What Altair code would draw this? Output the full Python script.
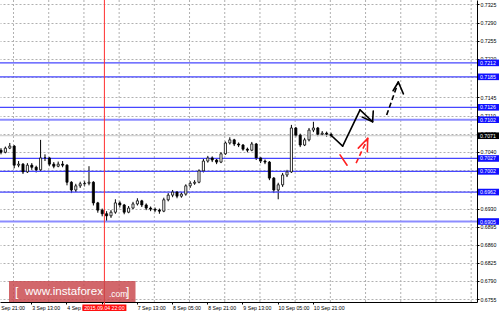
import altair as alt
import pandas as pd

first_open = 0.7043
bar_close = [
    0.7039, 0.7047, 0.7051, 0.7014, 0.7016, 0.7001, 0.7014, 0.7010, 0.7005, 0.7028,
    0.7028, 0.7016, 0.7012, 0.7016, 0.7014, 0.6981, 0.6966, 0.6974, 0.6978, 0.6979,
    0.6981, 0.6941, 0.6927, 0.6920, 0.6916, 0.6923, 0.6941, 0.6937, 0.6923, 0.6931,
    0.6939, 0.6945, 0.6937, 0.6931, 0.6929, 0.6927, 0.6925, 0.6947, 0.6956, 0.6962,
    0.6954, 0.6958, 0.6974, 0.6979, 0.6981, 0.7003, 0.7022, 0.7028, 0.7024, 0.7020,
    0.7036, 0.7057, 0.7063, 0.7055, 0.7053, 0.7045, 0.7043, 0.7055, 0.7028, 0.7022,
    0.7020, 0.6989, 0.6966, 0.6976, 0.6995, 0.7001, 0.7086, 0.7072, 0.7053, 0.7063,
    0.7082, 0.7086, 0.7074, 0.7076, 0.7074, 0.7071,
]
bar_high = [
    0.7047, 0.7050, 0.7057, 0.7053, 0.7022, 0.7018, 0.7018, 0.7018, 0.7013, 0.7063,
    0.7035, 0.7030, 0.7020, 0.7021, 0.7022, 0.7016, 0.6983, 0.6978, 0.6982, 0.6984,
    0.7012, 0.6983, 0.6943, 0.6930, 0.6925, 0.6927, 0.6948, 0.6945, 0.6939, 0.6935,
    0.6943, 0.6950, 0.6947, 0.6940, 0.6934, 0.6932, 0.6930, 0.6951, 0.6960, 0.6966,
    0.6964, 0.6962, 0.6977, 0.6983, 0.6985, 0.7006, 0.7026, 0.7032, 0.7031, 0.7027,
    0.7039, 0.7060, 0.7068, 0.7065, 0.7058, 0.7055, 0.7048, 0.7059, 0.7057, 0.7030,
    0.7025, 0.7022, 0.6991, 0.6980, 0.6999, 0.7005, 0.7092, 0.7088, 0.7075, 0.7067,
    0.7086, 0.7098, 0.7088, 0.7080, 0.7079, 0.7077,
]
bar_low = [
    0.7035, 0.7037, 0.7045, 0.7008, 0.7010, 0.6997, 0.6999, 0.7005, 0.7000, 0.7003,
    0.7022, 0.7012, 0.7008, 0.7010, 0.7010, 0.6975, 0.6960, 0.6962, 0.6970, 0.6973,
    0.6975, 0.6936, 0.6922, 0.6915, 0.6904, 0.6912, 0.6920, 0.6932, 0.6919, 0.6921,
    0.6929, 0.6936, 0.6933, 0.6927, 0.6925, 0.6923, 0.6920, 0.6923, 0.6944, 0.6952,
    0.6950, 0.6951, 0.6955, 0.6970, 0.6976, 0.6979, 0.7000, 0.7019, 0.7020, 0.7016,
    0.7018, 0.7034, 0.7054, 0.7051, 0.7049, 0.7042, 0.7039, 0.7041, 0.7024, 0.7018,
    0.7016, 0.6985, 0.6960, 0.6948, 0.6972, 0.6991, 0.6999, 0.7068, 0.7049, 0.7051,
    0.7060, 0.7078, 0.7070, 0.7071, 0.7069, 0.7068,
]

time_labels = ["2 Sep 21:00", "3 Sep 13:00", "4 Sep 05:00", "7 Sep 13:00", "8 Sep 05:00",
               "8 Sep 21:00", "9 Sep 13:00", "10 Sep 05:00", "10 Sep 21:00"]
time_label_hours = [-2.3, 13.7, 29.7, 61.7, 77.7, 93.7, 109.7, 125.7, 141.7]
time_tick_hours = [13.7, 29.7, 45.7, 61.7, 77.7, 93.7, 109.7, 125.7, 141.7]
grid_hours = [5.7, 21.7, 37.7, 53.7, 69.7, 85.7, 101.7, 117.7, 133.7, 149.7,
              165.7, 181.7, 197.7, 213.7]

price_ticks = [0.6755, 0.6790, 0.6825, 0.6860, 0.6895, 0.6930, 0.6965, 0.7005,
               0.7040, 0.7075, 0.7110, 0.7145, 0.7185, 0.7220, 0.7255, 0.7290, 0.7325]

level_prices = [0.7212, 0.7185, 0.7126, 0.7102, 0.7027, 0.7002, 0.6962, 0.6905]
level_labels = ["0.7212", "0.7185", "0.7126", "0.7102", "0.7027", "0.7002", "0.6962", "0.6905"]
level_strong = [False, False, False, True, False, False, False, True]

current_price = 0.7071
current_label = "0.7071"

marker_hour = 47.0
marker_label = "2015.09.04 22:00"

# forecast arrows: (hour1, price1, hour2, price2)
black_solid = [
    (150.0, 0.7072, 155.3, 0.7051),
    (155.3, 0.7051, 163.2, 0.7121),
    (163.2, 0.7121, 168.9, 0.7098),
    (164.2, 0.7107, 168.9, 0.7098),
    (169.2, 0.7119, 168.9, 0.7098),
    (178.2, 0.7158, 180.6, 0.7175),
    (182.9, 0.7152, 180.6, 0.7175),
]
black_dashed = [
    (175.3, 0.7111, 180.6, 0.7175),
]
red_solid = [
    (154.1, 0.7034, 157.3, 0.7014),
    (162.4, 0.7047, 166.7, 0.7066),
    (166.5, 0.7040, 166.7, 0.7066),
]
red_dashed = [
    (161.4, 0.7018, 166.7, 0.7066),
]

# ---------------- scales / axes ----------------
X_DOMAIN = [-0.45, 216.35]
Y_DOMAIN = [0.67492, 0.73337]
PW, PH = 477, 302
FONT = "Liberation Sans"
GRID = "#b0b0b0"


def xs():
    return alt.Scale(domain=X_DOMAIN, nice=False, zero=False)


def ys():
    return alt.Scale(domain=Y_DOMAIN, nice=False, zero=False)


def x_axis():
    return alt.Axis(orient="bottom", values=time_tick_hours, labels=False, grid=False,
                    ticks=True, tickSize=2, tickColor="#000000", domainColor="#000000",
                    domainWidth=1, title=None)


def y_axis():
    return alt.Axis(orient="right", values=price_ticks, format=".4f", labelFont=FONT,
                    labelFontSize=5.2, labelColor="#000000", labelPadding=1,
                    labelOverlap=False, labelFlush=False, tickSize=2, tickColor="#000000",
                    domainColor="#000000", domainWidth=1, grid=True, gridDash=[2, 2],
                    gridColor=GRID, gridWidth=1, title=None)


def X(field):
    return alt.X(field, scale=xs(), axis=x_axis(), title=None)


def Y(field):
    return alt.Y(field, scale=ys(), axis=y_axis(), title=None)


# ---------------- tables ----------------
opens = [first_open] + bar_close[:-1]
candles = pd.DataFrame({
    "hour": [2 * i for i in range(len(bar_close))],
    "open": opens, "close": bar_close, "high": bar_high, "low": bar_low,
})
candles["up"] = candles["close"] >= candles["open"]
candles["xa"] = candles["hour"] - 0.48
candles["xb"] = candles["hour"] + 0.48
candles["fill"] = ["#ffffff" if u else "#000000" for u in candles["up"]]

levels = pd.DataFrame({
    "price": level_prices, "label": level_labels,
    "color": ["#8c8cff" if s else "#4646ff" for s in level_strong],
    "w": [2.0 if s else 1.2 for s in level_strong],
})


def seg_df(rows, color):
    return pd.DataFrame([{"h1": a, "p1": b, "h2": c, "p2": d, "color": color} for a, b, c, d in rows])


arrows_solid = pd.concat([seg_df(black_solid, "#000000"), seg_df(red_solid, "#ff2020")])
arrows_dashed = pd.concat([seg_df(black_dashed, "#000000"), seg_df(red_dashed, "#ff2020")])

# ---------------- layers ----------------
wicks = alt.Chart(candles).mark_rule(color="#000000", strokeWidth=1).encode(
    x=X("hour:Q"), y=Y("low:Q"), y2="high:Q",
)

bodies = alt.Chart(candles).mark_rect(stroke="#000000", strokeWidth=0.8).encode(
    x=X("xa:Q"), x2="xb:Q", y=Y("open:Q"), y2="close:Q",
    fill=alt.Fill("fill:N", scale=None),
)

vgrid = alt.Chart(pd.DataFrame({"hour": grid_hours})).mark_rule(
    color=GRID, strokeDash=[2, 2], strokeWidth=1
).encode(
    x=X("hour:Q"), y=alt.value(0), y2=alt.value(PH),
)

level_rules = alt.Chart(levels).mark_rule().encode(
    y=Y("price:Q"), x=alt.value(0), x2=alt.value(PW),
    color=alt.Color("color:N", scale=None),
    strokeWidth=alt.StrokeWidth("w:Q", scale=None),
)

bid_rule = alt.Chart(pd.DataFrame({"price": [current_price]})).mark_rule(
    color="#c8c8c8", strokeWidth=1
).encode(
    y=Y("price:Q"), x=alt.value(0), x2=alt.value(PW),
)

marker_rule = alt.Chart(pd.DataFrame({"hour": [marker_hour]})).mark_rule(
    color="#ff3030", strokeWidth=1
).encode(
    x=X("hour:Q"), y=alt.value(0), y2=alt.value(305),
)

arr_solid = alt.Chart(arrows_solid).mark_rule(strokeWidth=1.6, strokeCap="round").encode(
    x=X("h1:Q"), x2="h2:Q", y=Y("p1:Q"), y2="p2:Q",
    color=alt.Color("color:N", scale=None),
)
arr_dashed = alt.Chart(arrows_dashed).mark_rule(strokeWidth=1.6, strokeDash=[5, 3]).encode(
    x=X("h1:Q"), x2="h2:Q", y=Y("p1:Q"), y2="p2:Q",
    color=alt.Color("color:N", scale=None),
)

# logo
logo_df = pd.DataFrame({"a": [0]})
logo_rect = alt.Chart(logo_df).mark_rect(color="#c8464b", opacity=0.82).encode(
    x=alt.value(9), x2=alt.value(135.5), y=alt.value(281), y2=alt.value(302)
)
logo_b1 = alt.Chart(logo_df).mark_text(text="[", font=FONT, fontSize=12, color="#ffffff",
                                       align="left", baseline="middle").encode(
    x=alt.value(15), y=alt.value(292))
logo_main = alt.Chart(logo_df).mark_text(text="www.instaforex", font=FONT, fontSize=11.6,
                                         color="#ffffff", align="left", baseline="middle").encode(
    x=alt.value(25), y=alt.value(292))
logo_com = alt.Chart(logo_df).mark_text(text=".com", font=FONT, fontSize=8.5, color="#ffffff",
                                        align="left", baseline="middle").encode(
    x=alt.value(109), y=alt.value(293.5))
logo_b2 = alt.Chart(logo_df).mark_text(text="]", font=FONT, fontSize=12, color="#ffffff",
                                       align="left", baseline="middle").encode(
    x=alt.value(126), y=alt.value(292))

# right-side price boxes
level_boxes = alt.Chart(levels).mark_rect(color="#1010ff", yOffset=-3.3, y2Offset=3.3).encode(
    y=Y("price:Q"), y2="price:Q", x=alt.value(478), x2=alt.value(499),
)
level_text = alt.Chart(levels).mark_text(font=FONT, fontSize=5.2, color="#ffffff",
                                         align="left", baseline="middle").encode(
    y=Y("price:Q"), x=alt.value(480), text="label:N",
)
cur_df = pd.DataFrame({"price": [current_price], "label": [current_label]})
cur_box = alt.Chart(cur_df).mark_rect(color="#000000", yOffset=-3.3, y2Offset=3.3).encode(
    y=Y("price:Q"), y2="price:Q", x=alt.value(478), x2=alt.value(499),
)
cur_text = alt.Chart(cur_df).mark_text(font=FONT, fontSize=5.2, color="#ffffff",
                                       align="left", baseline="middle").encode(
    y=Y("price:Q"), x=alt.value(480), text="label:N",
)

# bottom time labels
tl = pd.DataFrame({"hour": time_label_hours, "label": time_labels})
time_text = alt.Chart(tl).mark_text(font=FONT, fontSize=5.2, color="#000000", align="left",
                                    baseline="middle", dx=1).encode(
    x=X("hour:Q"), y=alt.value(307.5), text="label:N",
)
mk_df = pd.DataFrame({"hour": [marker_hour], "label": [marker_label]})
marker_box = alt.Chart(mk_df).mark_rect(color="#ff1010", xOffset=-22, x2Offset=22).encode(
    x=X("hour:Q"), x2="hour:Q", y=alt.value(304.5), y2=alt.value(311),
)
marker_text = alt.Chart(mk_df).mark_text(font=FONT, fontSize=5.2, color="#ffffff",
                                         align="center", baseline="middle").encode(
    x=X("hour:Q"), y=alt.value(307.8), text="label:N",
)

chart = alt.layer(
    wicks, vgrid, level_rules, bid_rule, marker_rule, bodies,
    arr_solid, arr_dashed,
    logo_rect, logo_b1, logo_main, logo_com, logo_b2,
    level_boxes, level_text, cur_box, cur_text,
    time_text, marker_box, marker_text,
).properties(
    width=PW, height=PH, autosize="none",
    padding={"left": 0, "top": 0, "right": 23, "bottom": 9},
    background="#ffffff",
).configure_view(stroke=None)

chart.save("out.html", embed_options={"renderer": "svg", "actions": False})
